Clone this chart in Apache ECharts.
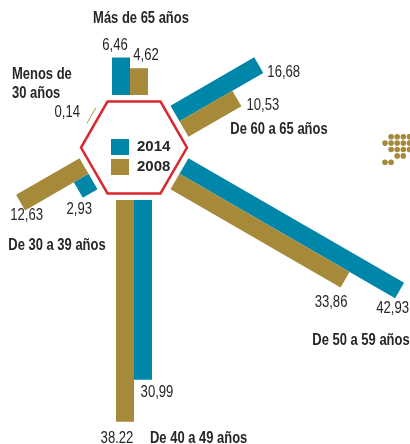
<!DOCTYPE html>
<html><head><meta charset="utf-8">
<script src="https://cdn.jsdelivr.net/npm/echarts@6/dist/echarts.min.js"></script>
<style>html,body{margin:0;padding:0;background:#fff}#c{width:410px;height:444px}</style>
</head><body><div id="c"></div>
<script>
// ---- data ----
const categories = ['Más de 65 años', 'De 60 a 65 años', 'De 50 a 59 años', 'De 40 a 49 años', 'De 30 a 39 años', 'Menos de 30 años'];
const seriesNames = ['2014', '2008'];
const values2014 = [6.46, 16.68, 42.93, 30.99, 2.93, null];
const values2008 = [4.62, 10.53, 33.86, 38.22, 12.63, 0.14];
const labels2014 = ['6,46', '16,68', '42,93', '30,99', '2,93', ''];
const labels2008 = ['4,62', '10,53', '33,86', '38.22', '12,63', '0,14'];

// ---- layout ----
const W = 410, H = 444;
const CX = 134, CY = 147.5;       // hexagon centre (px)
const PX = 5.8;                    // px per percentage point
const BASE_GAP = 52.5;             // px from centre to bar base
const BAR_W = 18;                  // px
const HEX_R = 53;                  // px
const ANGLES = [90, 30, -30, -90, 210, 150];
const PERP_SHIFT = [4, 0, 0, 0, 0, 3];   // px sideways nudge per category
const LABEL_OFF = [
  [[-6, -11.5], [7, -13]],
  [[25, 8], [26, 7.5]],
  [[-7, 18.5], [-14, 23]],
  [[14, 13], [-8, 17]],
  [[1, 20], [6, 13.5]],
  [[0, 0], [-23.5, -2.6]]
];
const CAT_LABELS = [
  {text: 'Más de 65 años', x: 141, y: 19, align: 'center'},
  {text: 'De 60 a 65 años', x: 279, y: 130, align: 'center'},
  {text: 'De 50 a 59 años', x: 361, y: 341, align: 'center'},
  {text: 'De 40 a 49 años', x: 150, y: 439, align: 'left'},
  {text: 'De 30 a 39 años', x: 57, y: 246, align: 'center'},
  {text: 'Menos de\n30 años', x: 12, y: 84, align: 'left'}
];
const BLUE = '#0086a8', GOLD = '#a68a3a', RED = '#d8292f', TXT = '#262626';
const FONT = "'Liberation Sans', Arial, sans-serif";
const NARROW = 0.82;

const r0 = BASE_GAP / PX, bw = BAR_W / PX;

function makeRender(k, labels) {
  return function (params, api) {
    const i = api.value(0), v = api.value(1);
    if (v == null || isNaN(v)) return;
    const a = ANGLES[i] * Math.PI / 180;
    const ux = Math.cos(a), uy = Math.sin(a);
    const px = -uy, py = ux;
    const s = k === 0 ? 1 : -1;
    const sh = PERP_SHIFT[i] / PX;
    const P = (r, t) => api.coord([ux * r + px * (t + sh), uy * r + py * (t + sh)]);
    const pts = [P(r0, 0), P(r0 + v, 0), P(r0 + v, s * bw), P(r0, s * bw)];
    const end = P(r0 + v, s * bw / 2);
    const off = LABEL_OFF[i][k];
    return {
      type: 'group',
      children: [
        {type: 'polygon', shape: {points: pts}, style: {fill: api.visual('color')}},
        {type: 'text', x: end[0] + off[0], y: end[1] + off[1], scaleX: NARROW,
         style: {text: labels[i], font: '16px ' + FONT, fill: TXT, align: 'center', verticalAlign: 'middle'}}
      ]
    };
  };
}

function hexRender(params, api) {
  const R = HEX_R / PX;
  const pts = [];
  for (let j = 0; j < 6; j++) {
    const a = j * Math.PI / 3;
    pts.push(api.coord([R * Math.cos(a), R * Math.sin(a)]));
  }
  return {type: 'polygon', shape: {points: pts}, style: {fill: '#fff', stroke: RED, lineWidth: 2.5}};
}

const dotRows = [[1,2,3,4],[0,1,2,3,4],[1,2,3,4],[2,3],[0,1]];
const dots = [];
dotRows.forEach((cols, r) => cols.forEach(c => dots.push({
  type: 'circle', shape: {cx: 385 + c * 6.1, cy: 136.7 + r * 6.4, r: 2.8}, style: {fill: GOLD}
})));

const graphics = CAT_LABELS.map(l => ({
  type: 'text', x: l.x, y: l.y, scaleX: 0.81,
  style: {text: l.text, font: 'bold 16px ' + FONT, fill: TXT, align: l.align, verticalAlign: 'middle', lineHeight: 19}
})).concat(dots);

const chart = echarts.init(document.getElementById('c'), null, {renderer: 'canvas'});
chart.setOption({
  animation: false,
  grid: {left: 0, right: 0, top: 0, bottom: 0},
  xAxis: {type: 'value', min: -CX / PX, max: (W - CX) / PX, show: false},
  yAxis: {type: 'value', min: -(H - CY) / PX, max: CY / PX, show: false},
  legend: {
    data: seriesNames, orient: 'vertical', left: 106, top: 134,
    itemWidth: 18, itemHeight: 16, itemGap: 4, icon: 'rect',
    textStyle: {fontFamily: FONT, fontWeight: 'bold', fontSize: 15, color: TXT, lineHeight: 16, padding: [0, 0, 0, 3]}
  },
  graphic: graphics,
  series: [
    {type: 'custom', name: 'hex', renderItem: hexRender, data: [[0, 0]], z: 1, silent: true},
    {type: 'custom', name: seriesNames[0], renderItem: makeRender(0, labels2014), itemStyle: {color: BLUE},
     data: values2014.map((v, i) => [i, v]).filter(d => d[1] != null), z: 2},
    {type: 'custom', name: seriesNames[1], renderItem: makeRender(1, labels2008), itemStyle: {color: GOLD},
     data: values2008.map((v, i) => [i, v]).filter(d => d[1] != null), z: 2}
  ]
});
</script></body></html>
